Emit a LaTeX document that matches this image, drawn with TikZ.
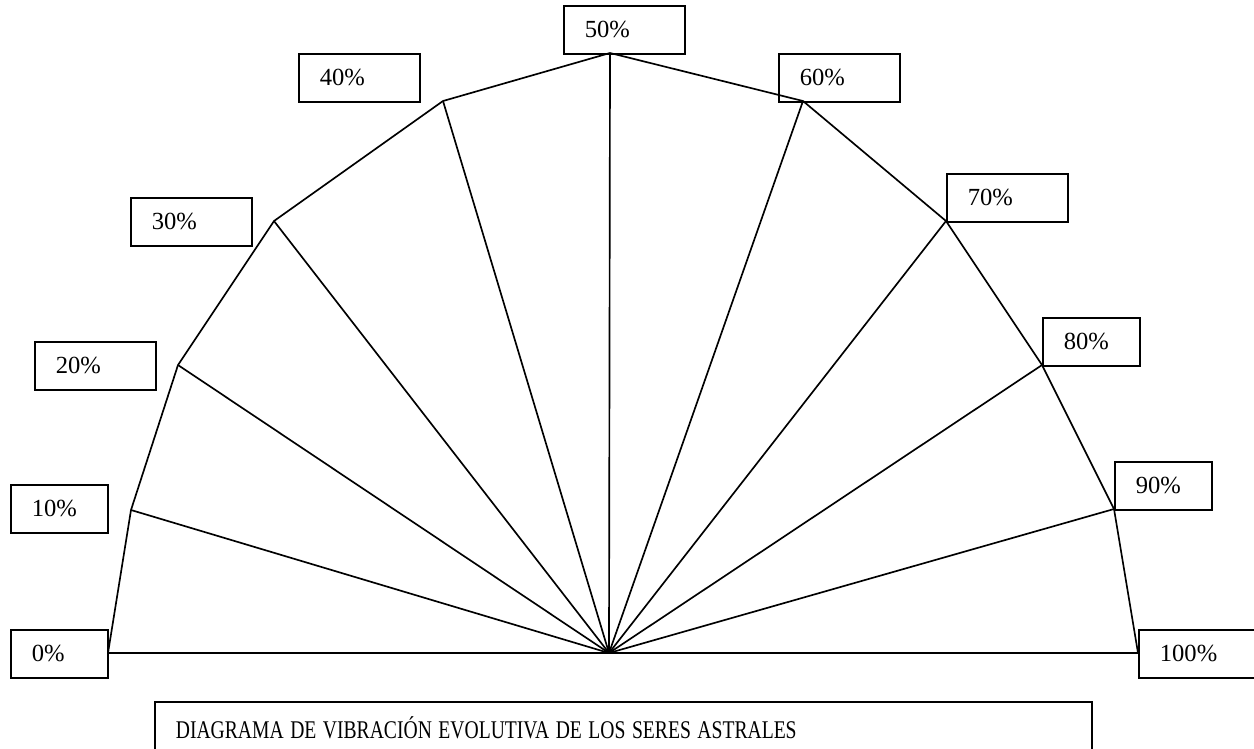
\documentclass[tikz,border=0pt]{standalone}
\usepackage{graphicx}
\usepackage{fontspec}
\setmainfont{Liberation Serif}
\begin{document}
\begin{tikzpicture}[x=0.02cm,y=-0.02cm,
    ray/.style={line width=0.95pt},
    pctbox/.style={draw,line width=1pt,anchor=north west,minimum height=0.96cm,
      text width=#1,inner xsep=0.42cm,inner ysep=0pt,align=left,
      font=\fontsize{14}{16}\selectfont}]
  \useasboundingbox (0,0) rectangle (1254,748);
  % corners of the fan
  \coordinate (O) at (609,653);
  \coordinate (p0) at (108,653);
  \coordinate (p1) at (131,510);
  \coordinate (p2) at (178,365);
  \coordinate (p3) at (274,221);
  \coordinate (p4) at (443,101);
  \coordinate (p5) at (610,53);
  \coordinate (p6) at (803,101);
  \coordinate (p7) at (946,221);
  \coordinate (p8) at (1042,365);
  \coordinate (p9) at (1114,509);
  \coordinate (p10) at (1138,653);
  % the boxes
  \node[pctbox=1.10cm] (b0) at (10,629) {0\%};
  \node[pctbox=1.10cm] (b1) at (10,484) {10\%};
  \node[pctbox=1.58cm] (b2) at (34,341) {20\%};
  \node[pctbox=1.58cm] (b3) at (130,197) {30\%};
  \node[pctbox=1.58cm] (b4) at (298,53) {40\%};
  \node[pctbox=1.58cm] (b5) at (563,5) {50\%};
  \node[pctbox=1.58cm] (b6) at (778,53) {60\%};
  \node[pctbox=1.58cm] (b7) at (946,173) {70\%};
  \node[pctbox=1.10cm] (b8) at (1042,317) {80\%};
  \node[pctbox=1.10cm] (b9) at (1114,461) {90\%};
  \node[pctbox=1.52cm] (b10) at (1138,629) {100\%};
  % rays and rim
  \foreach \i in {0,...,10}
    \draw[ray] (O) -- (p\i);
  \draw[ray] (p0) \foreach \i in {1,...,10} { -- (p\i) };
  \node[draw,line width=1pt,anchor=north west,minimum width=18.74cm,minimum height=1.04cm,
    text width=17.9cm,inner xsep=0.42cm,inner ysep=0pt,align=left,
    font=\fontsize{14.5}{17}\selectfont] (title) at (154,701)
    {\scalebox{0.77}[1]{DIAGRAMA DE VIBRACIÓN EVOLUTIVA DE LOS SERES ASTRALES}};
\end{tikzpicture}
\end{document}
